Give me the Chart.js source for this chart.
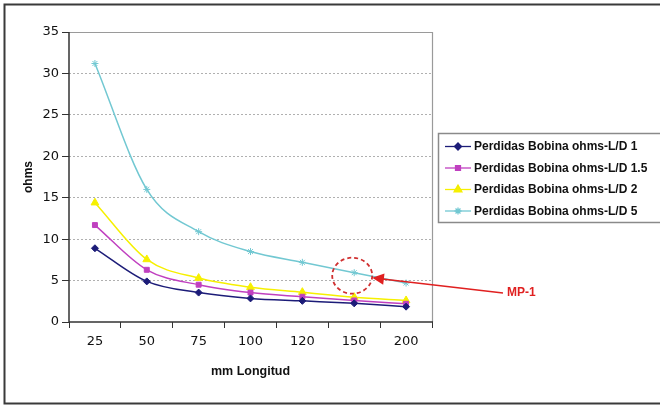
<!DOCTYPE html>
<html>
<head>
<meta charset="utf-8">
<script src="https://cdn.jsdelivr.net/npm/chart.js@4/dist/chart.umd.min.js"></script>
<style>
  html, body { margin: 0; padding: 0; background: #fff; }
  #wrap { width: 660px; height: 407px; }
</style>
</head>
<body>
<div id="wrap"><canvas id="chart" width="660" height="407"></canvas></div>
<script>
// datos
const longitudes = ["25", "50", "75", "100", "120", "150", "200"];
const ld1 = [8.9, 4.9, 3.55, 2.85, 2.55, 2.25, 1.85];
const ld15 = [11.7, 6.3, 4.5, 3.55, 3.05, 2.6, 2.2];
const ld2 = [14.4, 7.55, 5.3, 4.2, 3.6, 3.0, 2.6];
const ld5 = [31.2, 16.0, 10.9, 8.5, 7.2, 5.95, 4.7];
const yTicks = [0, 5, 10, 15, 20, 25, 30, 35];

const tickFont = { family: "DejaVu Sans", size: 13 };

function serie(label, data, color, style, radius) {
  return {
    label: label,
    data: data,
    borderColor: color,
    backgroundColor: color,
    borderWidth: 1.5,
    pointStyle: style,
    pointRadius: radius,
    pointBorderWidth: 1,
    cubicInterpolationMode: "monotone",
    fill: false,
  };
}

// marco, ejes, leyenda y anotacion MP-1
const extras = {
  id: "extras",
  beforeDraw(chart) {
    const c = chart.ctx;
    c.save();
    c.strokeStyle = "#3a3a3a";
    c.lineWidth = 2;
    c.strokeRect(4.5, 4.5, 700, 399);
    c.restore();
  },
  beforeDatasetsDraw(chart) {
    const c = chart.ctx;
    const a = chart.chartArea;
    c.save();
    // borde superior y derecho gris
    c.strokeStyle = "#9a9a9a";
    c.lineWidth = 1.2;
    c.beginPath();
    c.moveTo(a.left, a.top + 0.5);
    c.lineTo(a.right + 0.5, a.top + 0.5);
    c.lineTo(a.right + 0.5, a.bottom);
    c.stroke();
    // ejes
    c.strokeStyle = "#333";
    c.lineWidth = 1.5;
    c.beginPath();
    c.moveTo(a.left, a.top);
    c.lineTo(a.left, a.bottom);
    c.lineTo(a.right + 1, a.bottom);
    c.stroke();
    c.restore();
  },
  afterDatasetsDraw(chart) {
    const c = chart.ctx;
    const xs = chart.scales.x;
    const ys = chart.scales.y;
    c.save();

    // circulo punteado en 150
    const cx = xs.getPixelForValue(5) - 2;
    const cy = ys.getPixelForValue(ld5[5]) + 3;
    c.strokeStyle = "#d03030";
    c.lineWidth = 1.8;
    c.setLineDash([4, 3]);
    c.beginPath();
    c.ellipse(cx, cy, 20, 18, 0, 0, Math.PI * 2);
    c.stroke();
    c.setLineDash([]);

    // flecha
    const tipX = cx + 20, tipY = cy + 2;
    const endX = 503, endY = 293;
    c.strokeStyle = "#e02020";
    c.fillStyle = "#e02020";
    c.lineWidth = 1.6;
    c.beginPath();
    c.moveTo(endX, endY);
    c.lineTo(tipX + 8, tipY + 1);
    c.stroke();
    const ang = Math.atan2(endY - tipY, endX - tipX);
    c.beginPath();
    c.moveTo(tipX, tipY);
    c.lineTo(tipX + 13 * Math.cos(ang - 0.45), tipY + 13 * Math.sin(ang - 0.45));
    c.lineTo(tipX + 13 * Math.cos(ang + 0.45), tipY + 13 * Math.sin(ang + 0.45));
    c.closePath();
    c.fill();
    c.font = "bold 12px 'Liberation Sans'";
    c.textBaseline = "middle";
    c.fillText("MP-1", endX + 4, endY);

    // leyenda
    const lx = 438, ly = 133, lh = 89;
    c.fillStyle = "#fff";
    c.fillRect(lx, ly, 240, lh);
    c.strokeStyle = "#8a8a8a";
    c.lineWidth = 1.5;
    c.strokeRect(lx + 0.5, ly + 0.5, 240, lh);
    chart.data.datasets.forEach((ds, i) => {
      const ry = ly + 13.5 + i * 21.5;
      c.strokeStyle = ds.borderColor;
      c.lineWidth = 1.3;
      c.beginPath();
      c.moveTo(lx + 7, ry);
      c.lineTo(lx + 33, ry);
      c.stroke();
      Chart.helpers.drawPoint(c, {
        pointStyle: ds.pointStyle,
        radius: ds.pointRadius,
        borderWidth: 1,
        rotation: 0,
      }, lx + 20, ry);
      c.fillStyle = ds.borderColor;
      c.fill();
      c.fillStyle = "#111";
      c.font = "bold 12px 'Liberation Sans'";
      c.textBaseline = "middle";
      c.fillText(ds.label, lx + 36, ry + 0.5);
    });
    c.restore();
  },
};

new Chart(document.getElementById("chart").getContext("2d"), {
  type: "line",
  data: {
    labels: longitudes,
    datasets: [
      serie("Perdidas Bobina ohms-L/D 1", ld1, "#1c1c78", "rectRot", 3.5),
      serie("Perdidas Bobina ohms-L/D 1.5", ld15, "#c040c0", "rect", 3.5),
      serie("Perdidas Bobina ohms-L/D 2", ld2, "#f6f000", "triangle", 4.5),
      serie("Perdidas Bobina ohms-L/D 5", ld5, "#72c8d2", "star", 3.5),
    ],
  },
  options: {
    responsive: false,
    animation: false,
    layout: { padding: { left: 0, right: 228, top: 32, bottom: 0 } },
    plugins: {
      legend: { display: false },
      tooltip: { enabled: false },
    },
    scales: {
      x: {
        offset: true,
        afterFit: (s) => { s.height = 85; },
        border: { display: false },
        grid: {
          offset: true,
          drawOnChartArea: false,
          drawTicks: true,
          tickLength: 6,
          tickColor: "#333",
        },
        ticks: { color: "#111", font: tickFont, padding: 6 },
        title: {
          display: true,
          text: "mm Longitud",
          color: "#111",
          font: { family: "Liberation Sans", size: 12.5, weight: "bold" },
          padding: { top: 0, bottom: 28 },
        },
      },
      y: {
        min: 0,
        max: 35,
        afterFit: (s) => { s.width = 69; },
        afterBuildTicks: (s) => { s.ticks = yTicks.map((v) => ({ value: v })); },
        border: { display: false, dash: [2, 2] },
        grid: {
          color: (ctx) => (ctx.tick.value === 0 || ctx.tick.value === 35 ? "rgba(0,0,0,0)" : "#b0b0b0"),
          tickColor: "#333",
          tickBorderDash: [],
          tickLength: 7,
        },
        ticks: { color: "#111", font: tickFont, padding: 3 },
        title: {
          display: true,
          text: "ohms",
          color: "#111",
          font: { family: "Liberation Sans", size: 12, weight: "bold" },
          padding: { top: 21, bottom: 0 },
        },
      },
    },
  },
  plugins: [extras],
});
</script>
</body>
</html>
